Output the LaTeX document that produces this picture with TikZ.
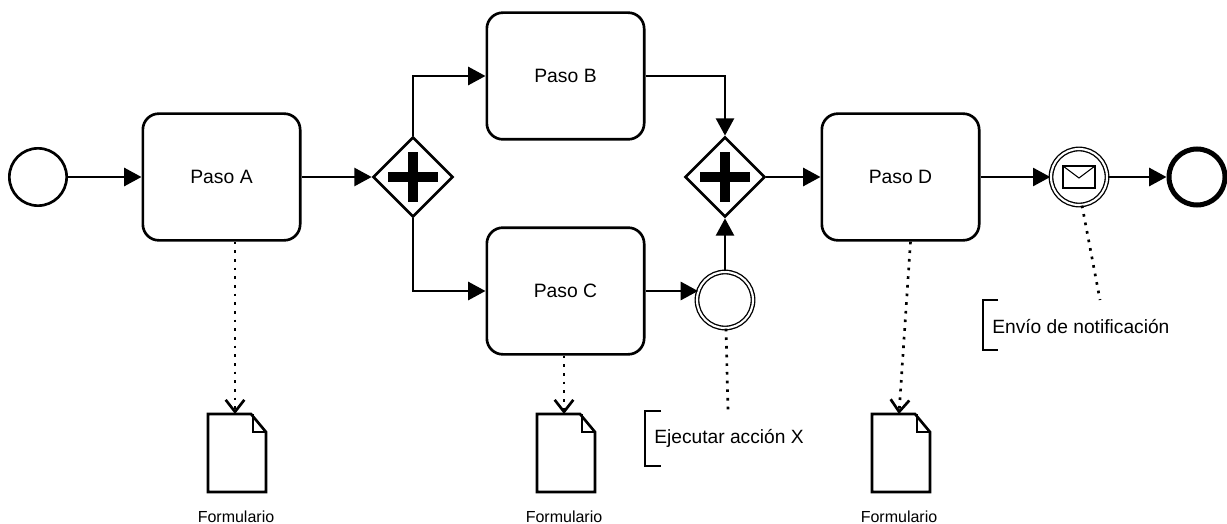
\documentclass[tikz,border=0pt]{standalone}
\usepackage{fontspec}
\setmainfont{Liberation Sans}
\usetikzlibrary{arrows.meta,shapes.geometric}
\tikzset{
    task/.style={draw,rounded corners=12pt,line width=2pt,minimum width=118pt,minimum height=95pt,inner sep=0pt,font=\fontsize{14.5}{17}\selectfont},
    gate/.style={draw,diamond,line width=2pt,minimum size=60pt,inner sep=0pt,path picture={
        \draw[line width=7.5pt] (path picture bounding box.center) +(-18.5pt,0) -- +(18.5pt,0) +(0,-18.5pt) -- +(0,18.5pt);}},
    plainevent/.style={draw,circle,line width=2pt,minimum size=43pt,inner sep=0pt},
    endevent/.style={draw,circle,line width=3.75pt,minimum size=42pt,inner sep=0pt},
    midevent/.style={draw,circle,line width=1pt,double,double distance=1.6pt,minimum size=42pt,inner sep=0pt},
    flow/.style={line width=2pt,-{Triangle[length=13pt,width=13.5pt]}},
    assoc/.style={line width=2pt,dash pattern=on 2pt off 4.5pt},
    assocdoc/.style={assoc,-{Straight Barb[length=9pt,width=14pt]}},
    docline/.style={line width=2pt,line join=miter},
    notebar/.style={line width=2pt},
    notetext/.style={anchor=west,inner sep=0pt,font=\fontsize{14.4}{17}\selectfont},
    doctext/.style={inner sep=0pt,font=\fontsize{12}{14}\selectfont},
}
\begin{document}
\begin{tikzpicture}[x=0.75pt,y=0.75pt,yscale=-1,xscale=1]
    \useasboundingbox (0,0) rectangle (1227,524);
    %Events and tasks
    \node[plainevent] (start) at (38,177) {};
    \node[task] (pasoa) at (221.5,177) {Paso A};
    \node[gate] (gatea) at (413,177) {};
    \node[task] (pasob) at (565.5,76) {Paso B};
    \node[task] (pasoc) at (565.5,291) {Paso C};
    \node[gate] (gateb) at (725,177) {};
    \node[midevent] (accion) at (725,300) {};
    \node[task] (pasod) at (900.5,177) {Paso D};
    \node[midevent] (envio) at (1079,177) {};
    \node[endevent] (fin) at (1197,177) {};
    %Envelope
    \draw[line width=0.8pt] (envio) ++(-16,-11) rectangle ++(32,22);
    \draw[line width=0.8pt] (envio) ++(-16,-11) -- ++(16,12) -- ++(16,-12);
    %Documents
    \foreach \name/\x in {doca/208,docc/537,docd/872}{
        \coordinate (\name) at (\x+27,414);
        \draw[docline] (\x,414) -- (\x+43,414) -- (\x+58,432) -- (\x+58,492) -- (\x,492) -- cycle;
        \draw[docline] (\x+45,414) |- (\x+58,432);
    }
    %Sequence flows
    \draw[flow] (start) -- (pasoa);
    \draw[flow] (pasoa) -- (gatea);
    \draw[flow] (gatea.north) |- (pasob.west);
    \draw[flow] (gatea.south) |- (pasoc.west);
    \draw[flow] (pasob.east) -| (gateb.north);
    \draw[flow] (pasoc.east) -- (pasoc.east -| accion.160);
    \draw[flow] (accion) -- (gateb);
    \draw[flow] (gateb) -- (pasod);
    \draw[flow] (pasod) -- (envio);
    \draw[flow] (envio) -- (fin);
    %Associations
    \coordinate (notex) at (728,411);
    \coordinate (notey) at (1100,300);
    \coordinate (froma) at (pasoa.south -| doca);
    \coordinate (fromc) at (pasoc.south -| docc);
    \draw[assocdoc] (froma) -- (doca);
    \draw[assocdoc] (fromc) -- (docc);
    \draw[assocdoc] (pasod.south) ++(10,0) coordinate (fromd) (fromd) -- (docd);
    \draw[assoc] (accion.-88) -- (notex);
    \draw[assoc] (envio.-84) -- (notey);
    %Annotations
    \draw[notebar] (661,411) -| (645,466) -- (661,466);
    \draw[notebar] (998,300) -| (983,350) -- (998,350);
    % Text Node
    \node[notetext] (txtx) at (654,438) {Ejecutar acción X};
    \node[notetext] (txty) at (992,327) {Envío de notificación};
    \node[doctext] (txta) at (236,517) {Formulario};
    \node[doctext] (txtc) at (564,517) {Formulario};
    \node[doctext] (txtd) at (899,517) {Formulario};
\end{tikzpicture}
\end{document}
